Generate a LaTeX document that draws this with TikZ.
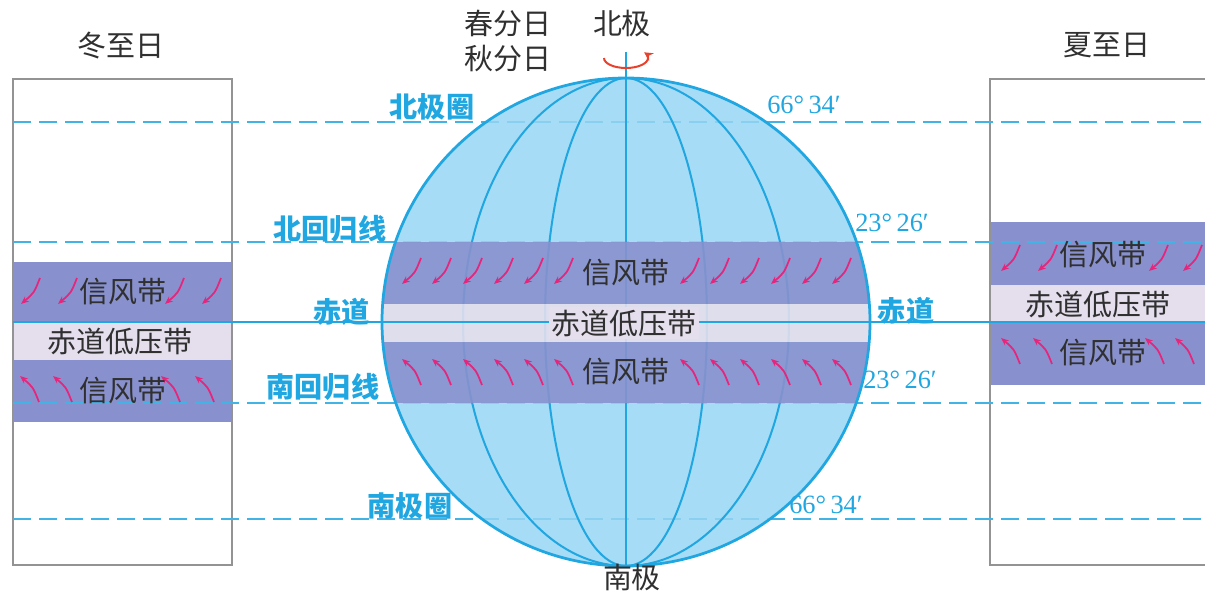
\documentclass[tikz,border=0pt]{standalone}
\usepackage{fontspec}
\setmainfont{Noto Sans CJK SC}
\newfontfamily\degfont{Liberation Serif}
\usetikzlibrary{arrows.meta}
\definecolor{skyline}{RGB}{32,166,224}
\definecolor{globefill}{RGB}{150,214,243}
\definecolor{trade}{RGB}{136,145,206}
\definecolor{doldrum}{RGB}{228,222,237}
\definecolor{windred}{RGB}{230,38,124}
\definecolor{spinred}{RGB}{232,65,44}
\definecolor{ink}{RGB}{48,48,48}
\begin{document}
\begin{tikzpicture}[x=0.2mm,y=0.2mm,
    lbl/.style={text=ink,inner sep=0pt,font=\fontsize{16.5}{19.4}\selectfont},
    zone/.style={text=skyline,inner sep=0pt,font=\fontsize{16}{19}\selectfont\bfseries},
    deg/.style={text=skyline,inner sep=0pt,font=\fontsize{15}{17}\selectfont\degfont},
    frame/.style={draw=gray!85,line width=0.3mm},
    latline/.style={skyline!85,line width=0.35mm,dash pattern=on 3.6mm off 1.6mm},
    meridian/.style={skyline,line width=0.4mm},
    wind/.style={windred,line width=0.35mm,-{Stealth[length=4.5pt,width=3.6pt]}},
    spin/.style={spinred,line width=0.4mm,-{Stealth[length=5pt,width=5pt]}}]
    \useasboundingbox (-626,-272) rectangle (579,322);

    % belts shifted south (left) and north (right)
    \fill[trade] (-613,0) rectangle (-394,60);
    \fill[doldrum] (-613,-38) rectangle (-394,0);
    \fill[trade] (-613,-100) rectangle (-394,-38);
    \fill[trade] (364,37) rectangle (640,100);
    \fill[doldrum] (364,0) rectangle (640,37);
    \fill[trade] (364,-63) rectangle (640,0);
    \draw[frame] (-613,-243) rectangle (-394,243);
    \draw[frame] (364,-243) rectangle (700,243);

    \foreach \y in {200,80,-81,-197}
        \draw[latline] (-613,\y) -- (640,\y);
    \draw[skyline,line width=0.35mm] (-613,0) -- (640,0);

    % globe
    \fill[globefill,fill opacity=0.85] (0,0) circle[radius=244];
    \begin{scope}
        \clip (0,0) circle[radius=244];
        \foreach \r in {81,163}
            \draw[meridian] (0,0) circle[x radius=\r,y radius=244];
        \draw[meridian] (0,-244) -- (0,244);
        \fill[trade,fill opacity=0.9] (-250,18) rectangle (250,80);
        \fill[doldrum,fill opacity=0.9] (-250,-20) rectangle (250,18);
        \fill[trade,fill opacity=0.9] (-250,-81) rectangle (250,-20);
        \draw[skyline,line width=0.35mm] (-250,0) -- (250,0);
    \end{scope}
    \draw[meridian] (0,244) -- (0,270);
    \draw[skyline,line width=0.55mm] (0,0) circle[radius=244];
    \draw[spin] (0,264) ++(180:22 and 10) arc[start angle=180,end angle=395,x radius=22,y radius=10];

    % trade winds
    \foreach \x in {-215,-185,-154,-123,-93,-63,63,93,123,154,185,215} {
        \draw[wind] (\x+10,64) .. controls (\x+4,49) .. (\x-9,38);
        \draw[wind] (\x+10,-63) .. controls (\x+4,-48) .. (\x-9,-37);
    }
    \foreach \x in {-596,-559,-452,-415}
        \draw[wind] (\x+10,44) .. controls (\x+4,29) .. (\x-9,18);
    \foreach \x in {-597,-564,-456,-422}
        \draw[wind] (\x+10,-80) .. controls (\x+4,-65) .. (\x-9,-54);
    \foreach \x in {384,421,532,566}
        \draw[wind] (\x+10,77) .. controls (\x+4,62) .. (\x-9,51);
    \foreach \x in {384,416,528,558}
        \draw[wind] (\x+10,-42) .. controls (\x+4,-27) .. (\x-9,-16);

    \node[lbl] (tradeN) at (0,49) {信风带};
    \node[lbl,fill=doldrum,inner sep=1.5pt] (lowEq) at (-2,-1) {赤道低压带};
    \node[lbl] (tradeS) at (0,-50) {信风带};
    \node[lbl] (winterN) at (-503,30) {信风带};
    \node[lbl] (winterEq) at (-506,-19) {赤道低压带};
    \node[lbl] (winterS) at (-503,-69) {信风带};
    \node[lbl] (summerN) at (477,67) {信风带};
    \node[lbl] (summerEq) at (472,18) {赤道低压带};
    \node[lbl] (summerS) at (477,-31) {信风带};

    \node[lbl] (winter) at (-505,276) {冬至日};
    \node[lbl,align=center] (equinox) at (-118,281) {春分日\\秋分日};
    \node[lbl] (summer) at (481,277) {夏至日};
    \node[lbl] (northpole) at (-4,298) {北极};
    \node[lbl] (southpole) at (6,-255) {南极};

    \node[zone] (arctic) at (-194,215) {北极圈};
    \node[zone] (cancer) at (-296,93) {北回归线};
    \node[zone] (eqW) at (-284,10) {赤道};
    \node[zone] (eqE) at (280,11) {赤道};
    \node[zone] (capricorn) at (-303,-65) {南回归线};
    \node[zone] (antarctic) at (-216,-184) {南极圈};
    \node[deg] (arcticDeg) at (178,217) {66°\,34′};
    \node[deg] (cancerDeg) at (266,99) {23°\,26′};
    \node[deg] (capricornDeg) at (274,-58) {23°\,26′};
    \node[deg] (antarcticDeg) at (200,-183) {66°\,34′};
\end{tikzpicture}
\end{document}
